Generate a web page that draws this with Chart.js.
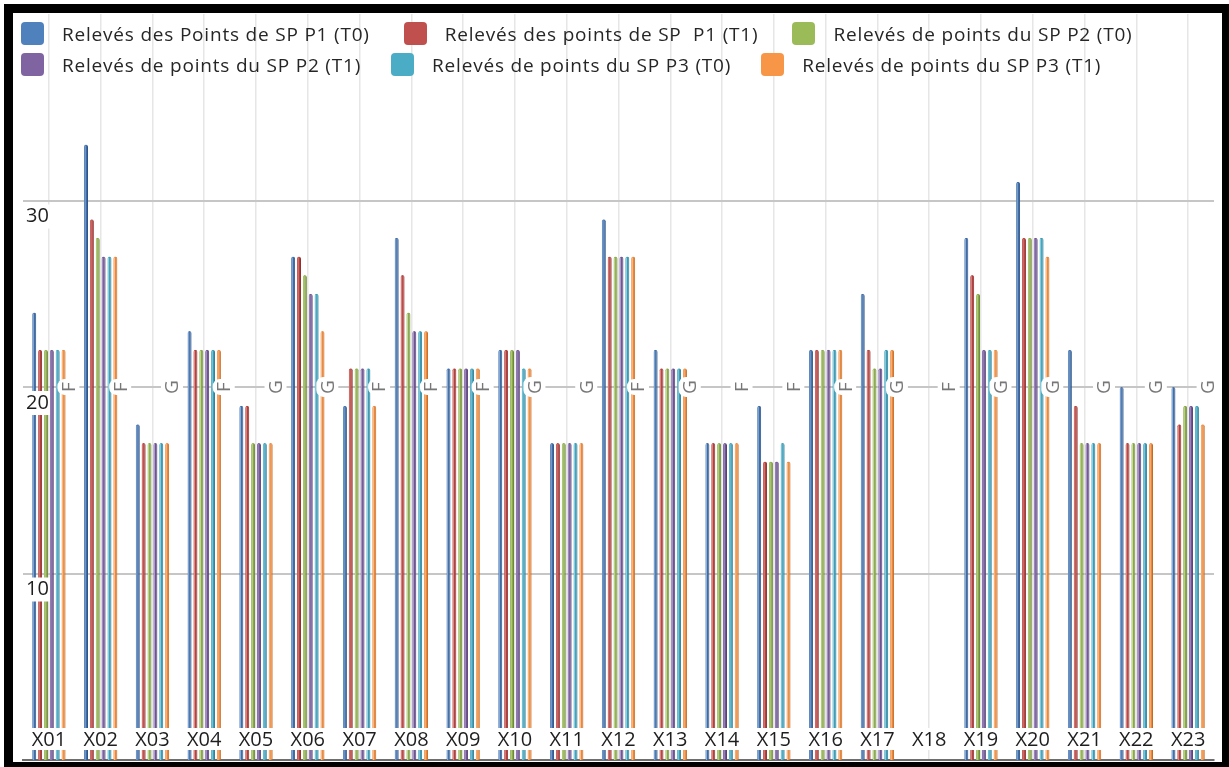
<!DOCTYPE html>
<html lang="fr">
<head>
    <meta charset="UTF-8">
    <title>Relevés des points SP</title>
    <script src="https://cdn.jsdelivr.net/npm/chart.js"></script>
    <style>
        body {
            margin: 0;
            background: #fff;
            font-family: 'Open Sans', sans-serif;
        }
        .wrap {
            position: relative;
            width: 1229px;
            height: 767px;
            overflow: hidden;
        }
        canvas {
            position: absolute;
            left: 0;
            top: 0;
        }
        .frame {
            position: absolute;
            left: 4px;
            top: 4px;
            width: 1225px;
            height: 763px;
            box-sizing: border-box;
            border-style: solid;
            border-color: #000;
            border-width: 9px 7px 5px 9px;
            pointer-events: none;
        }
        .legend {
            position: absolute;
            left: 21px;
            top: 22px;
        }
        .legend-row {
            display: flex;
            align-items: center;
            gap: 34px;
            height: 23px;
            margin-bottom: 8px;
        }
        .legend-row + .legend-row {
            gap: 30px;
        }
        .legend-item {
            display: flex;
            align-items: center;
            white-space: pre;
            font-size: 19px;
            letter-spacing: 0.8px;
            color: #262626;
        }
        .legend-color {
            width: 23px;
            height: 23px;
            border-radius: 4px;
            margin-right: 18px;
        }
    </style>
</head>
<body>
    <div class="wrap">
        <canvas id="releves" width="1229" height="767"></canvas>
        <div class="legend" id="legend"></div>
        <div class="frame"></div>
    </div>

    <script>
        // Catégories et relevés par série (X18 : pas de relevé)
        const categories = ['X01', 'X02', 'X03', 'X04', 'X05', 'X06', 'X07', 'X08', 'X09', 'X10', 'X11', 'X12',
                            'X13', 'X14', 'X15', 'X16', 'X17', 'X18', 'X19', 'X20', 'X21', 'X22', 'X23'];
        const p1T0 = [24, 33, 18, 23, 19, 27, 19, 28, 21, 22, 17, 29, 22, 17, 19, 22, 25, null, 28, 31, 22, 20, 20];
        const p1T1 = [22, 29, 17, 22, 19, 27, 21, 26, 21, 22, 17, 27, 21, 17, 16, 22, 22, null, 26, 28, 19, 17, 18];
        const p2T0 = [22, 28, 17, 22, 17, 26, 21, 24, 21, 22, 17, 27, 21, 17, 16, 22, 21, null, 25, 28, 17, 17, 19];
        const p2T1 = [22, 27, 17, 22, 17, 25, 21, 23, 21, 22, 17, 27, 21, 17, 16, 22, 21, null, 22, 28, 17, 17, 19];
        const p3T0 = [22, 27, 17, 22, 17, 25, 21, 23, 21, 21, 17, 27, 21, 17, 17, 22, 22, null, 22, 28, 17, 17, 19];
        const p3T1 = [22, 27, 17, 22, 17, 23, 19, 23, 21, 21, 17, 27, 21, 17, 16, 22, 22, null, 22, 27, 17, 17, 18];
        // Repère F / G de chaque point
        const repere = ['F', 'F', 'G', 'F', 'G', 'G', 'F', 'F', 'F', 'G', 'G', 'F',
                        'G', 'F', 'F', 'F', 'G', 'F', 'G', 'G', 'G', 'G', 'G'];
        const repereNiveau = 20;
        const yTicks = [10, 20, 30];

        const seriesLabels = [
            'Relevés des Points de SP P1 (T0)',
            'Relevés des points de SP  P1 (T1)',
            'Relevés de points du SP P2 (T0)',
            'Relevés de points du SP P2 (T1)',
            'Relevés de points du SP P3 (T0)',
            'Relevés de points du SP P3 (T1)'
        ];
        const seriesData = [p1T0, p1T1, p2T0, p2T1, p3T0, p3T1];
        const legendColors = ['#4f81bd', '#c0504d', '#9bbb59', '#8064a2', '#4bacc6', '#f79646'];
        const barColors = ['#3e6ca6', '#b2403d', '#89a849', '#6e5492', '#3a9cb6', '#ea873a'];
        const barShade = ['#2f5487', '#8f302e', '#6c8738', '#553f73', '#2b7c92', '#c46a25'];
        const barLight = ['#8fb0db', '#e08c89', '#c4da95', '#b09ccc', '#93d3e3', '#fbc08f'];

        const FONT = "'Open Sans', sans-serif";

        // Légende sur deux lignes, trois entrées par ligne
        const legendEl = document.getElementById('legend');
        for (let r = 0; r < 2; r++) {
            const row = document.createElement('div');
            row.className = 'legend-row';
            for (let c = 0; c < 3; c++) {
                const i = r * 3 + c;
                const item = document.createElement('div');
                item.className = 'legend-item';
                item.innerHTML = '<span class="legend-color" style="background:' + legendColors[i] + '"></span>';
                item.appendChild(document.createTextNode(seriesLabels[i]));
                row.appendChild(item);
            }
            legendEl.appendChild(row);
        }

        // Reflet clair à gauche des barres, étiquettes X.. et repères F/G
        const annotations = {
            id: 'annotations',
            afterDatasetsDraw(chart) {
                const ctx = chart.ctx;
                const xs = chart.scales.x;
                const ys = chart.scales.y;
                const area = chart.chartArea;

                chart.data.datasets.forEach((ds, d) => {
                    chart.getDatasetMeta(d).data.forEach((bar, i) => {
                        if (ds.data[i] == null) return;
                        const left = bar.x - bar.width / 2;
                        ctx.fillStyle = barLight[d];
                        ctx.fillRect(left + 0.6, bar.y + 1, 1, bar.base - bar.y - 1);
                    });
                });

                ctx.save();
                ctx.textAlign = 'center';
                ctx.textBaseline = 'middle';

                // repères verticaux F / G
                ctx.font = '19px ' + FONT;
                const yRep = ys.getPixelForValue(repereNiveau);
                repere.forEach((txt, i) => {
                    const x = xs.getPixelForValue(i) + 19.5;
                    ctx.save();
                    ctx.translate(x, yRep);
                    ctx.rotate(-Math.PI / 2);
                    const w = ctx.measureText(txt).width + 6;
                    ctx.fillStyle = '#fff';
                    ctx.beginPath();
                    ctx.roundRect(-w / 2, -11, w, 22, 7);
                    ctx.fill();
                    ctx.fillStyle = '#777777';
                    ctx.fillText(txt, 0, 1);
                    ctx.restore();
                });

                // noms des points en bas du graphique
                ctx.font = '20px ' + FONT;
                const yLab = area.bottom - 21;
                categories.forEach((txt, i) => {
                    const x = xs.getPixelForValue(i);
                    const w = ctx.measureText(txt).width + 2;
                    ctx.fillStyle = '#fff';
                    ctx.fillRect(x - w / 2, yLab - 11, w, 22);
                    ctx.fillStyle = '#1e1e1e';
                    ctx.fillText(txt, x, yLab + 1);
                });
                ctx.restore();
            }
        };

        function draw() {
            const ctx = document.getElementById('releves').getContext('2d');
            new Chart(ctx, {
                type: 'bar',
                data: {
                    labels: categories,
                    datasets: seriesData.map((values, i) => ({
                        label: seriesLabels[i],
                        data: values,
                        backgroundColor: barColors[i],
                        borderColor: barShade[i],
                        borderWidth: { top: 0, left: 0, bottom: 0, right: 1 },
                        borderSkipped: false,
                        borderRadius: { topLeft: 2, topRight: 2, bottomLeft: 0, bottomRight: 0 },
                        categoryPercentage: 0.68,
                        barPercentage: 0.68
                    }))
                },
                options: {
                    responsive: false,
                    animation: false,
                    layout: {
                        padding: { left: 23, right: 15, top: 14, bottom: 7 }
                    },
                    plugins: {
                        legend: { display: false },
                        tooltip: { enabled: false }
                    },
                    scales: {
                        x: {
                            grid: { offset: false, color: '#e6e6e6', lineWidth: 1.5, drawTicks: false },
                            border: { display: true, color: '#6e6e6e', width: 2 },
                            ticks: { display: false },
                            afterFit(scale) {
                                scale.height = 0;
                                scale.paddingLeft = 0;
                                scale.paddingRight = 0;
                            }
                        },
                        y: {
                            min: 0,
                            max: 40,
                            grid: { color: '#c6c6c6', lineWidth: 2, drawTicks: false },
                            border: { display: false },
                            afterFit(scale) {
                                scale.width = 0;
                                scale.paddingTop = 0;
                                scale.paddingBottom = 0;
                            },
                            afterBuildTicks(scale) {
                                scale.ticks = yTicks.map(v => ({ value: v }));
                            },
                            ticks: {
                                mirror: true,
                                padding: 3,
                                labelOffset: 16,
                                z: 1,
                                color: '#1e1e1e',
                                font: { family: FONT, size: 20 },
                                showLabelBackdrop: true,
                                backdropColor: '#fff',
                                backdropPadding: { x: 1, y: 0 }
                            }
                        }
                    }
                },
                plugins: [annotations]
            });
        }

        document.fonts.load('20px "Open Sans"').then(draw, draw);
    </script>
</body>
</html>
